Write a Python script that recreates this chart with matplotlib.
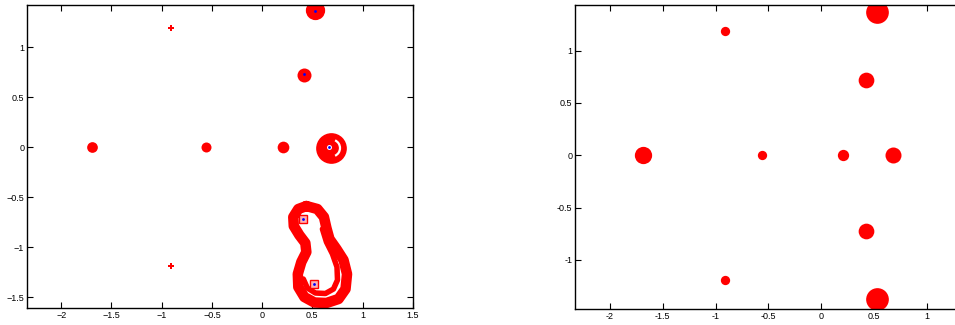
import numpy as np
import matplotlib
matplotlib.use("Agg")
import matplotlib.pyplot as plt
from matplotlib.patches import Arc
from matplotlib.ticker import FuncFormatter

plt.rcParams['font.family'] = ['Liberation Sans', 'DejaVu Sans']

eig_re = [-1.69, -0.56, 0.21, 0.68, 0.42, 0.42, 0.53, 0.53, -0.91, -0.91]
eig_im = [0.0, 0.0, 0.0, 0.0, 0.72, -0.72, 1.37, -1.37, 1.19, -1.19]

# left panel: blob diameters in pixels (0 = no blob, drawn as ring/loop instead)
left_size = [10.7, 10.0, 11.7, 0, 14.0, 0, 19.3, 0, 6.5, 6.5]
left_mark = ['o', 'o', 'o', 'o', 'o', 'o', 'o', 'o', 'P', 'P']
# blue dots (computed eigenvalues) and the two boxed ones
blue_re = [0.53, 0.414, 0.665]
blue_im = [1.36, 0.727, 0.0]
box_re = [0.41, 0.52]
box_im = [-0.72, -1.37]

# ring around the real eigenvalue at ~0.68
ring_re, ring_im, ring_d = 0.69, -0.01, 30.7
arc_r = 0.085

# peanut-shaped band around the lower pair (centreline, traced)
loop_re = [0.44, 0.55, 0.615, 0.64, 0.67, 0.74, 0.81, 0.845, 0.83, 0.76, 0.64, 0.52,
           0.42, 0.36, 0.355, 0.39, 0.44, 0.43, 0.37, 0.315, 0.31, 0.36, 0.44]
loop_im = [-0.59, -0.62, -0.70, -0.81, -0.92, -1.02, -1.13, -1.27, -1.42, -1.52, -1.56,
           -1.555, -1.50, -1.40, -1.27, -1.15, -1.05, -0.96, -0.88, -0.79, -0.70, -0.62, -0.59]
inner_re = [0.60, 0.64, 0.70, 0.745, 0.75, 0.71, 0.63, 0.53, 0.45, 0.41]
inner_im = [-0.82, -0.95, -1.07, -1.20, -1.33, -1.42, -1.465, -1.46, -1.41, -1.32]

# right panel blob diameters (pixels)
right_size = [17.3, 9.3, 11.3, 16.0, 15.7, 15.7, 22.7, 22.7, 9.3, 9.3]

px = 0.72  # points per pixel at dpi 100

fig = plt.figure(figsize=(9.55, 3.25), dpi=100)
ax = fig.add_axes([0.0283, 0.0523, 0.404, 0.932])
ax2 = fig.add_axes([0.602, 0.049, 0.4188, 0.937])

# ---- left panel
ax.plot(loop_re, loop_im, color='r', lw=10.5 * px, solid_joinstyle='round',
        solid_capstyle='round', zorder=2)
ax.plot(inner_re, inner_im, color='r', lw=5.5 * px, solid_joinstyle='round',
        solid_capstyle='round', zorder=2)
for x, y, s, m in zip(eig_re, eig_im, left_size, left_mark):
    if s > 0:
        ax.plot(x, y, marker=m, ms=s * px, color='r', mec='r', mew=0, ls='none', zorder=2)
ax.plot(ring_re, ring_im, marker='o', ms=ring_d * px, color='r', mew=0, zorder=2)
ax.add_patch(Arc((ring_re, ring_im), 2 * arc_r, 2 * arc_r, theta1=-65, theta2=65,
                 color='w', lw=1.6, zorder=3))
ax.plot(blue_re[2], blue_im[2], 'o', ms=5 * px, color='w', mew=0, zorder=3)
ax.plot(box_re, box_im, 's', ms=8 * px, mfc='#ffb0b0', mec='r', mew=1.0, ls='none', zorder=3)
ax.plot(blue_re + box_re, blue_im + box_im, 'o', ms=2.8 * px, color='b', mew=0,
        ls='none', zorder=4)

ax.set_xlim(-2.34, 1.5)
ax.set_ylim(-1.61, 1.42)
ax.set_xticks(np.arange(-2, 1.51, 0.5))
ax.set_yticks(np.arange(-1.5, 1.01, 0.5))
mi = FuncFormatter(lambda v, p: ('%g' % v).replace('-', '\u2212'))
ax.xaxis.set_major_formatter(mi)
ax.yaxis.set_major_formatter(mi)

# ---- right panel
for x, y, s in zip(eig_re, eig_im, right_size):
    ax2.plot(x, y, 'o', ms=s * px, color='r', mew=0, zorder=2)
ax2.set_xlim(-2.331, 1.454)
ax2.set_ylim(-1.47, 1.44)
ax2.set_xticks(np.arange(-2, 1.01, 0.5))
ax2.set_yticks(np.arange(-1, 1.01, 0.5))
hy = FuncFormatter(lambda v, p: ('%g' % v))
ax2.xaxis.set_major_formatter(hy)
ax2.yaxis.set_major_formatter(hy)

for a in (ax, ax2):
    a.tick_params(direction='in', length=4, width=0.8, labelsize=6.5, pad=2,
                  top=True, right=True)
    for sp in a.spines.values():
        sp.set_linewidth(1.0)
# right edge of the second panel falls outside the picture
ax2.tick_params(right=False)
ax2.spines['right'].set_visible(False)

fig.savefig('out.png', dpi=100)
